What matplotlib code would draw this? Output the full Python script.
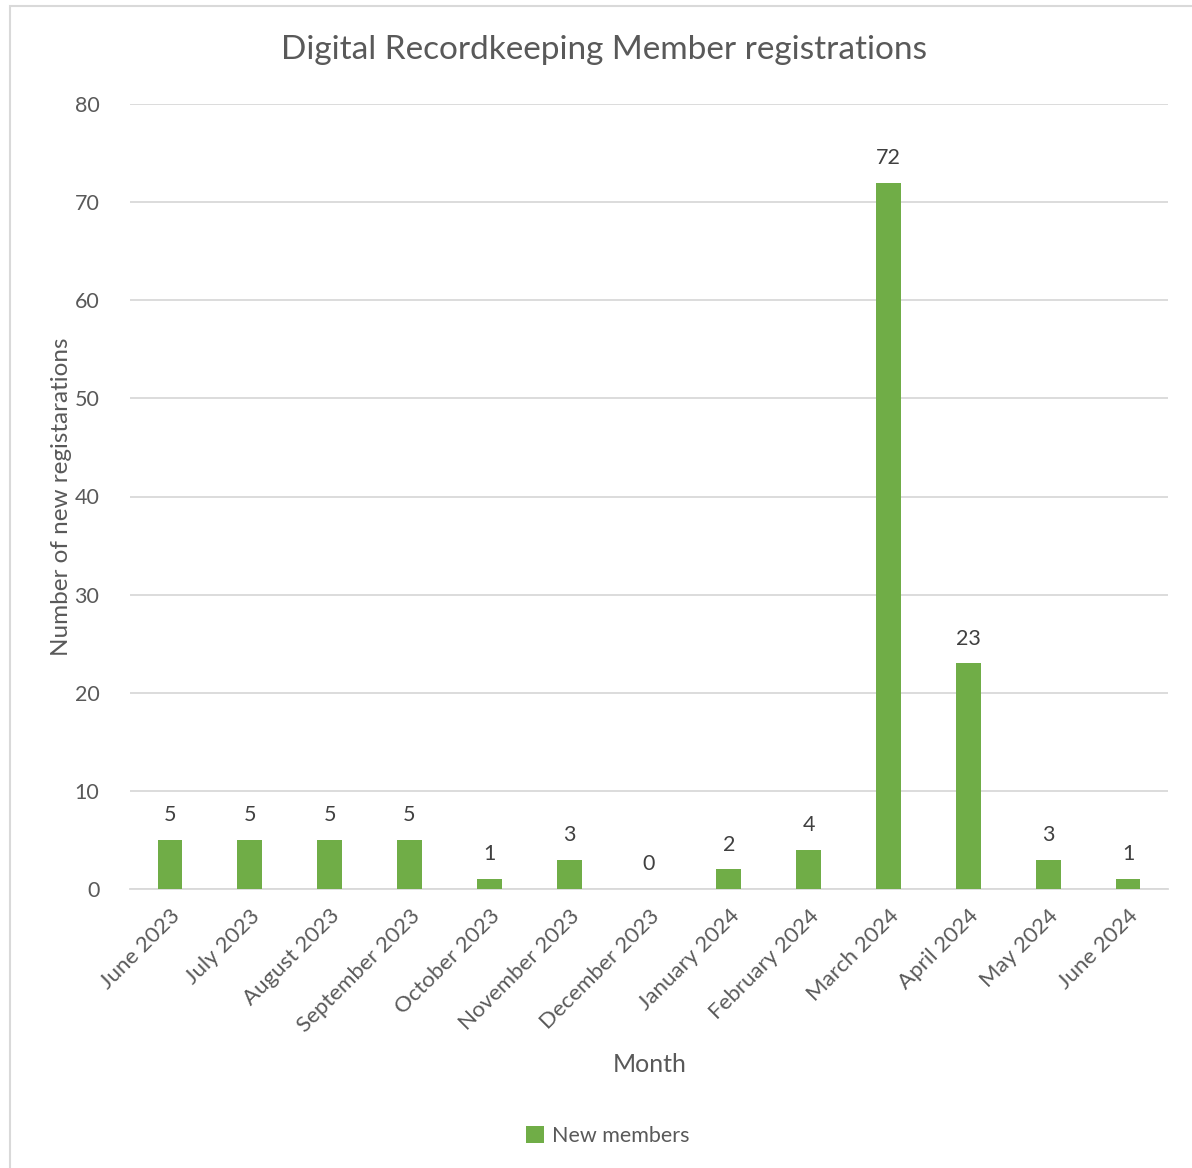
import matplotlib.pyplot as plt
from matplotlib.patches import Rectangle

months = [
    'June 2023', 'July 2023', 'August 2023', 'September 2023', 'October 2023',
    'November 2023', 'December 2023', 'January 2024', 'February 2024',
    'March 2024', 'April 2024', 'May 2024', 'June 2024',
]
new_members = [5, 5, 5, 5, 1, 3, 0, 2, 4, 72, 23, 3, 1]
y_ticks = [0, 10, 20, 30, 40, 50, 60, 70, 80]

text_color = '#595959'
label_color = '#404040'
grid_color = '#D9D9D9'
bar_color = '#70AD47'

plt.rcParams['font.family'] = ['Lato', 'DejaVu Sans']

fig = plt.figure(figsize=(11.92, 11.68), dpi=100)
ax = fig.add_axes([130 / 1192, 1 - 889 / 1168, 1038 / 1192, 785 / 1168])

# chart border (only left/top visible in the reference)
fig.patches.append(Rectangle((10 / 1192, -0.01), 1.2, 1 - 6 / 1168 + 0.01,
                             transform=fig.transFigure, fill=False,
                             edgecolor='#D9D9D9', linewidth=1.5))

x = range(len(months))
bars = ax.bar(x, new_members, width=0.31, color=bar_color, zorder=3, label='New members')
for xi, v in zip(x, new_members):
    ax.text(xi, v + 1.5, str(v), ha='center', va='bottom', fontsize=15.5, color=label_color)

ax.set_xlim(-0.5, len(months) - 0.5)
ax.set_ylim(0, 80)
ax.set_yticks(y_ticks)
ax.set_xticks(list(x))
ax.set_xticklabels(months, rotation=45, ha='right', rotation_mode='anchor')
ax.tick_params(axis='both', length=0, labelsize=16, labelcolor=text_color)
ax.tick_params(axis='y', pad=22, labelsize=15.5)
ax.tick_params(axis='x', pad=12)
ax.grid(axis='y', color=grid_color, linewidth=1.3, zorder=0)
for side in ['top', 'right', 'left']:
    ax.spines[side].set_visible(False)
ax.spines['bottom'].set_color(grid_color)
ax.spines['bottom'].set_linewidth(1.3)

fig.text(604 / 1192, 1 - 50 / 1168, 'Digital Recordkeeping Member registrations',
         ha='center', va='center', fontsize=24, color=text_color)
fig.text(62 / 1192, 1 - 497 / 1168, 'Number of new registarations', rotation=90,
         ha='center', va='center', fontsize=17.5, color=text_color)
fig.text(650 / 1192, 1 - 1065 / 1168, 'Month', ha='center', va='center',
         fontsize=18, color=text_color)

fig.legend(handles=[bars], labels=['New members'], loc='center',
           bbox_to_anchor=(608 / 1192, 1 - 1136 / 1168), frameon=False,
           fontsize=15.5, labelcolor=text_color, handlelength=0.8, handleheight=0.8,
           handletextpad=0.4)

fig.savefig('out.png', dpi=100, facecolor='white')
